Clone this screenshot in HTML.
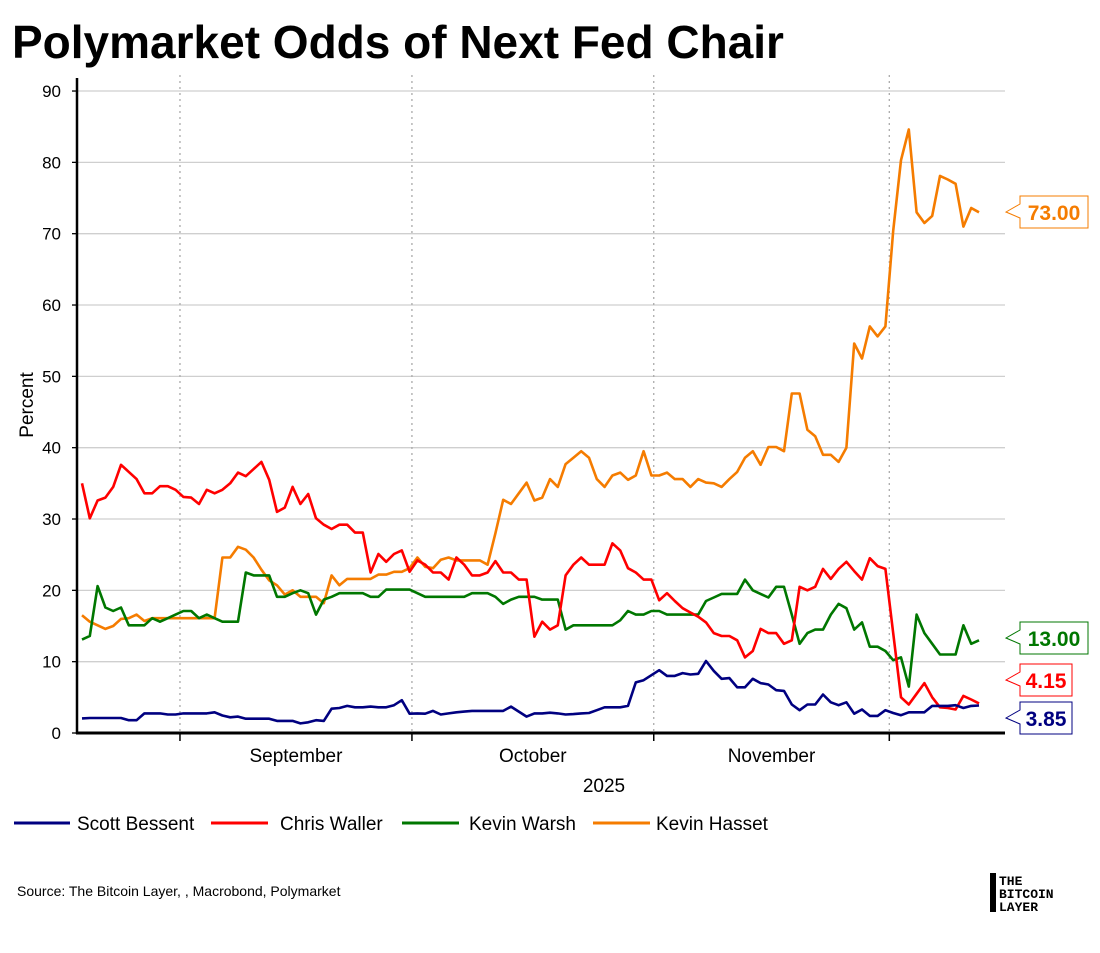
<!DOCTYPE html>
<html><head><meta charset="utf-8"><style>
html,body{margin:0;padding:0;background:#fff;}
svg{display:block;font-family:"Liberation Sans",sans-serif;}
</style></head><body>
<svg id="chart" width="1100" height="953" viewBox="0 0 1100 953">
<text x="12" y="58" font-size="46" font-weight="bold" fill="#000">Polymarket Odds of Next Fed Chair</text>
<g id="grid"></g>
<g id="series"></g>
<g id="axes"></g>
<g id="callouts"></g>
<text transform="translate(33,405) rotate(-90)" text-anchor="middle" font-size="19">Percent</text>
<text x="604" y="792" text-anchor="middle" font-size="19">2025</text>
<g>
<g><line x1="14" y1="823" x2="70" y2="823" stroke="#000080" stroke-width="3"/><text x="77" y="830" font-size="19">Scott Bessent</text></g>
<g><line x1="211" y1="823" x2="268" y2="823" stroke="#ff0000" stroke-width="3"/><text x="280" y="830" font-size="19">Chris Waller</text></g>
<g><line x1="402" y1="823" x2="459" y2="823" stroke="#007700" stroke-width="3"/><text x="469" y="830" font-size="19">Kevin Warsh</text></g>
<g><line x1="593" y1="823" x2="650" y2="823" stroke="#f57c00" stroke-width="3"/><text x="656" y="830" font-size="19">Kevin Hasset</text></g>
</g>
<text x="17" y="896" font-size="14">Source: The Bitcoin Layer, , Macrobond, Polymarket</text>
<g>
<rect x="990" y="873" width="6" height="39" fill="#000"/>
<text x="999" y="885" font-size="13" font-weight="bold" font-family="Liberation Mono, monospace">THE</text>
<text x="999" y="898" font-size="13" font-weight="bold" font-family="Liberation Mono, monospace">BITCOIN</text>
<text x="999" y="911" font-size="13" font-weight="bold" font-family="Liberation Mono, monospace">LAYER</text>
</g>
</svg>
<script>
const yTicks=[0,10,20,30,40,50,60,70,80,90];
const monthLabels=["September","October","November"];
const monthBoundaries=[12.56,42.3,73.3,103.5];
const seriesNames=["Scott Bessent","Chris Waller","Kevin Warsh","Kevin Hasset"];
const bessent=[2.05,2.1,2.1,2.1,2.1,2.1,1.8,1.8,2.75,2.75,2.75,2.6,2.6,2.75,2.75,2.75,2.75,2.9,2.45,2.2,2.3,2.0,2.0,2.0,2.0,1.7,1.7,1.7,1.35,1.5,1.8,1.7,3.4,3.5,3.8,3.6,3.6,3.7,3.6,3.6,3.9,4.6,2.7,2.75,
2.7,3.1,2.6,2.75,2.9,3.0,3.1,3.1,3.1,3.1,3.1,3.7,3.0,2.3,2.75,2.75,2.85,2.75,2.6,2.65,2.75,2.8,3.2,3.6,3.6,3.6,3.8,7.1,7.4,8.1,8.8,8.0,8.0,8.4,8.2,8.3,10.1,
8.7,7.6,7.7,6.4,6.4,7.6,7.0,6.8,6.0,5.9,4.0,3.2,4.0,4.0,5.4,4.3,3.9,4.3,2.7,3.3,2.4,2.4,3.2,2.8,2.5,2.9,2.9,2.9,3.8,3.8,3.8,3.9,3.5,3.8,3.85];
const waller=[35.0,30.1,32.6,33.0,34.5,37.6,36.6,35.6,33.6,33.6,34.6,34.6,34.1,33.1,33.0,32.1,34.1,33.6,34.1,35.0,36.5,36.0,37.0,38.0,35.5,31.0,31.6,34.5,32.1,33.5,30.1,29.2,28.6,29.2,29.2,28.1,28.1,22.5,25.1,24.0,25.1,25.6,22.6,
24.2,23.6,22.5,22.5,21.5,24.6,23.6,22.1,22.1,22.5,24.1,22.5,22.5,21.5,21.5,13.5,15.6,14.5,15.1,22.1,23.6,24.6,23.6,23.6,23.6,26.6,25.6,23.1,22.5,21.5,21.5,18.6,19.6,18.5,17.5,16.9,16.3,15.5,
14.0,13.6,13.6,13.0,10.6,11.5,14.6,14.0,14.0,12.5,13.0,20.5,20.0,20.5,23.0,21.6,23.0,24.0,22.7,21.5,24.5,23.4,23.0,14.0,5.0,4.0,5.5,7.0,5.0,3.6,3.5,3.3,5.2,4.7,4.15];
const warsh=[13.1,13.6,20.6,17.6,17.1,17.6,15.1,15.1,15.1,16.1,15.6,16.1,16.6,17.1,17.1,16.1,16.6,16.1,15.6,15.6,15.6,22.5,22.1,22.1,22.1,19.1,19.1,19.6,20.0,19.6,16.6,18.7,19.1,19.6,19.6,19.6,19.6,19.1,19.1,20.1,20.1,20.1,20.1,19.6,
19.1,19.1,19.1,19.1,19.1,19.1,19.6,19.6,19.6,19.1,18.1,18.7,19.1,19.1,19.1,18.7,18.7,18.7,14.5,15.1,15.1,15.1,15.1,15.1,15.1,15.8,17.1,16.6,16.6,17.1,17.1,16.6,16.6,16.6,16.6,16.6,18.5,
19.0,19.5,19.5,19.5,21.5,20.0,19.5,19.0,20.5,20.5,16.6,12.5,14.0,14.5,14.5,16.6,18.1,17.5,14.5,15.5,12.1,12.1,11.5,10.2,10.6,6.5,16.6,14.0,12.5,11.0,11.0,11.0,15.1,12.5,13.0];
const hasset=[16.5,15.6,15.1,14.6,15.0,16.0,16.1,16.6,15.7,16.1,16.1,16.1,16.1,16.1,16.1,16.1,16.1,16.1,24.6,24.6,26.1,25.7,24.6,22.9,21.4,20.7,19.4,20.0,19.1,19.1,19.1,18.2,22.1,20.7,21.6,21.6,21.6,21.6,22.2,22.2,22.6,22.6,23.1,24.6,
23.3,23.1,24.3,24.6,24.2,24.2,24.2,24.2,23.6,28.0,32.7,32.1,33.6,35.1,32.6,33.0,35.6,34.5,37.7,38.6,39.5,38.6,35.6,34.5,36.1,36.5,35.5,36.1,39.5,36.1,36.1,36.5,35.6,35.6,34.5,35.6,35.1,
35.0,34.5,35.6,36.6,38.6,39.5,37.6,40.1,40.1,39.5,47.6,47.6,42.5,41.6,39.0,39.0,38.0,40.0,54.6,52.5,57.0,55.6,57.0,70.4,80.3,84.6,73.0,71.5,72.5,78.1,77.6,77.0,71.0,73.6,73.0];
const lastLabels=["3.85","4.15","13.00","73.00"];

const NS="http://www.w3.org/2000/svg";
const X0=82,DX=7.8,Y0=733,PXU=7.133;
function xS(i){return X0+DX*i;}
function yS(v){return Y0-v*PXU;}
function mk(tag,attrs,parent){const e=document.createElementNS(NS,tag);for(const k in attrs)e.setAttribute(k,attrs[k]);parent.appendChild(e);return e;}
const grid=document.getElementById('grid'),axes=document.getElementById('axes'),ser=document.getElementById('series'),cal=document.getElementById('callouts');
yTicks.forEach(t=>{
  if(t>0){const g=mk('line',{x1:77,x2:1005,y1:yS(t),y2:yS(t),stroke:'#cfcfcf','stroke-width':1.3},grid);
  
  }
  const lb=mk('text',{x:61,y:yS(t)+6,'text-anchor':'end','font-size':17},axes);
  lb.textContent=t;
  
  
  const tk=mk('line',{x1:72,x2:77,y1:yS(t),y2:yS(t),stroke:'#000','stroke-width':1.3},axes);
  
  
});
monthBoundaries.forEach((b,i)=>{
  const l=mk('line',{x1:xS(b),x2:xS(b),y1:75,y2:733,stroke:'#aaa','stroke-width':1.3,'stroke-dasharray':'2,4'},grid);
  
  
  const tk=mk('line',{x1:xS(b),x2:xS(b),y1:733,y2:741,stroke:'#000','stroke-width':1.5},axes);
  
  
});
monthLabels.forEach((m,i)=>{
  const c=(xS(monthBoundaries[i])+xS(monthBoundaries[i+1]))/2;
  const t=mk('text',{x:c,y:762,'text-anchor':'middle','font-size':19},axes);
  t.textContent=m;
  
  
});
const ya=mk('line',{x1:77,x2:77,y1:78,y2:734,stroke:'#000','stroke-width':2.5},axes);


const xa=mk('line',{x1:76,x2:1005,y1:733,y2:733,stroke:'#000','stroke-width':3},axes);


const data=[bessent,waller,warsh,hasset];
const colors=['#000080','#ff0000','#007700','#f57c00'];
const ids=['bessent','waller','warsh','hasset'];
[3,2,1,0].forEach(k=>{
  const d=data[k].map((v,i)=>(i?'L':'M')+xS(i).toFixed(1)+','+yS(v).toFixed(1)).join('');
  const p=mk('path',{d:d,fill:'none',stroke:colors[k],'stroke-width':2.6,'stroke-linejoin':'round'},ser);
  
  
});
const boxY=[718,680,638,212];
const boxW=[52,52,68,68];
[3,2,1,0].forEach(k=>{
  const cy=boxY[k],x=1020,w=boxW[k],h=32;
  const g=mk('g',{},cal);
  
  
  mk('path',{d:`M1006,${cy} L${x},${cy-8} L${x},${cy-h/2} L${x+w},${cy-h/2} L${x+w},${cy+h/2} L${x},${cy+h/2} L${x},${cy+6} Z`,fill:'#fff',stroke:colors[k],'stroke-width':1},g);
  const t=mk('text',{x:x+w/2,y:cy+8,'text-anchor':'middle','font-size':21,'font-weight':'bold',fill:colors[k]},g);
  t.textContent=lastLabels[k];
});
</script>
</body></html>
